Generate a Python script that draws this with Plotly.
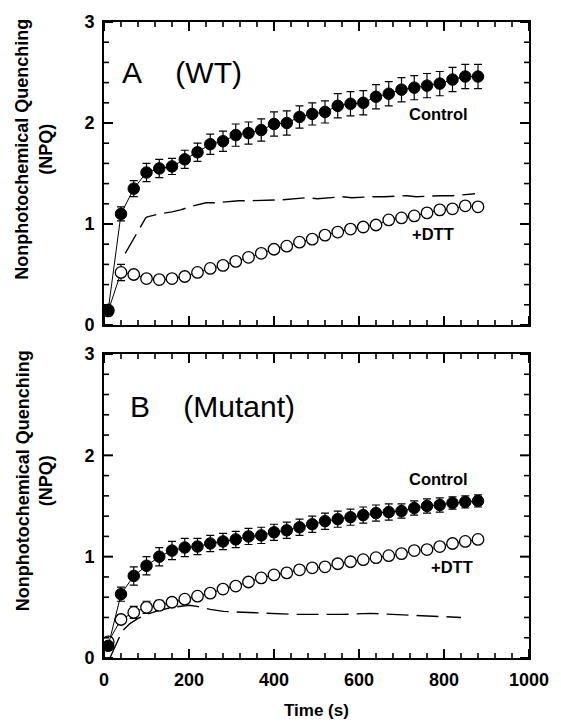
import plotly.graph_objects as go

# ---------------- data ----------------
time_s = [10, 40, 70, 100, 130, 160, 190, 220, 250, 280, 310, 340, 370, 400, 430,
          460, 490, 520, 550, 580, 610, 640, 670, 700, 730, 760, 790, 820, 850, 880]

wt_control = [0.15, 1.10, 1.35, 1.51, 1.55, 1.57, 1.64, 1.71, 1.79, 1.82, 1.88, 1.90, 1.93, 1.99, 2.00,
              2.06, 2.09, 2.11, 2.17, 2.19, 2.20, 2.26, 2.29, 2.33, 2.35, 2.37, 2.39, 2.43, 2.46, 2.46]
wt_control_err = [0.03, 0.07, 0.08, 0.09, 0.09, 0.08, 0.09, 0.09, 0.10, 0.10, 0.11, 0.11, 0.11, 0.12, 0.12,
                  0.11, 0.11, 0.11, 0.12, 0.12, 0.12, 0.12, 0.12, 0.12, 0.12, 0.12, 0.12, 0.12, 0.12, 0.12]
wt_dtt = [0.14, 0.52, 0.50, 0.46, 0.45, 0.46, 0.48, 0.52, 0.56, 0.59, 0.63, 0.67, 0.71, 0.75, 0.78,
          0.82, 0.85, 0.89, 0.92, 0.95, 0.97, 0.99, 1.04, 1.06, 1.08, 1.11, 1.14, 1.15, 1.18, 1.17]
wt_dtt_err = [0.02, 0.08, 0.04, 0.03, 0.03, 0.03, 0.03, 0.03, 0.03, 0.03, 0.03, 0.03, 0.03, 0.03, 0.03,
              0.03, 0.03, 0.03, 0.03, 0.03, 0.03, 0.03, 0.03, 0.03, 0.03, 0.03, 0.03, 0.03, 0.03, 0.03]

wt_dash_t = [50, 75, 98, 102, 130, 160, 180, 210, 240, 260, 317, 341, 398, 421, 475, 502,
             560, 583, 636, 659, 712, 735, 790, 820, 873]
wt_dash_v = [0.71, 0.89, 1.06, 1.07, 1.10, 1.12, 1.14, 1.18, 1.21, 1.21, 1.23, 1.23, 1.24, 1.24, 1.26, 1.25,
             1.27, 1.26, 1.27, 1.27, 1.28, 1.27, 1.28, 1.28, 1.30]

mut_control = [0.12, 0.63, 0.81, 0.91, 1.00, 1.06, 1.09, 1.10, 1.13, 1.15, 1.17, 1.20, 1.21, 1.24, 1.26,
               1.29, 1.32, 1.35, 1.37, 1.39, 1.41, 1.43, 1.44, 1.45, 1.48, 1.50, 1.51, 1.53, 1.54, 1.55]
mut_control_err = [0.03, 0.07, 0.09, 0.09, 0.09, 0.09, 0.09, 0.08, 0.08, 0.08, 0.08, 0.08, 0.08, 0.08, 0.08,
                   0.08, 0.08, 0.08, 0.08, 0.08, 0.08, 0.08, 0.08, 0.07, 0.07, 0.07, 0.07, 0.06, 0.06, 0.06]
mut_dtt = [0.16, 0.38, 0.45, 0.50, 0.52, 0.55, 0.58, 0.61, 0.64, 0.68, 0.71, 0.75, 0.79, 0.82, 0.84,
           0.87, 0.89, 0.90, 0.93, 0.95, 0.97, 0.99, 1.01, 1.03, 1.06, 1.07, 1.10, 1.13, 1.15, 1.17]
mut_dtt_err = [0.02, 0.04, 0.06, 0.06, 0.05, 0.03, 0.03, 0.03, 0.03, 0.03, 0.03, 0.03, 0.03, 0.03, 0.03,
               0.03, 0.03, 0.03, 0.03, 0.03, 0.03, 0.03, 0.03, 0.03, 0.03, 0.03, 0.03, 0.03, 0.03, 0.03]

mut_dash_t = [15, 42, 61, 80, 100, 130, 160, 200, 219, 250, 281, 330, 400, 450, 500, 560,
              627, 680, 731, 780, 812, 840]
mut_dash_v = [0.01, 0.26, 0.34, 0.39, 0.43, 0.47, 0.50, 0.52, 0.51, 0.48, 0.46, 0.45, 0.44, 0.43, 0.43, 0.43,
              0.44, 0.43, 0.415, 0.41, 0.40, 0.40]

x_tick_vals = [0, 200, 400, 600, 800, 1000]
x_tick_text = ["0", "200", "400", "600", "800", "1000"]
y_tick_vals = [0, 1, 2, 3]
y_tick_text = ["0", "1", "2", "3"]
x_minor_step = 40
y_minor_step = 0.2

FONT = "Liberation Sans, Arial, Helvetica, sans-serif"

fig = go.Figure()


def add_panel(xa, ya, ctrl, ctrl_err, dtt, dtt_err, dash_t, dash_v):
    fig.add_trace(go.Scatter(
        x=dash_t, y=dash_v, mode="lines", xaxis=xa, yaxis=ya,
        line=dict(color="black", width=1.4, dash="22px,8px"),
        showlegend=False, hoverinfo="skip"))
    fig.add_trace(go.Scatter(
        x=time_s, y=dtt, mode="lines+markers", xaxis=xa, yaxis=ya,
        line=dict(color="black", width=1),
        marker=dict(symbol="circle", size=11.5, color="white",
                    line=dict(color="black", width=1.3)),
        error_y=dict(type="data", array=dtt_err, color="black", thickness=1.2, width=4),
        cliponaxis=False, showlegend=False))
    fig.add_trace(go.Scatter(
        x=time_s, y=ctrl, mode="lines+markers", xaxis=xa, yaxis=ya,
        line=dict(color="black", width=1),
        marker=dict(symbol="circle", size=11.5, color="black",
                    line=dict(color="black", width=1)),
        error_y=dict(type="data", array=ctrl_err, color="black", thickness=1.2, width=4),
        cliponaxis=False, showlegend=False))


add_panel("x", "y", wt_control, wt_control_err, wt_dtt, wt_dtt_err, wt_dash_t, wt_dash_v)
add_panel("x2", "y2", mut_control, mut_control_err, mut_dtt, mut_dtt_err, mut_dash_t, mut_dash_v)

xr = [x_tick_vals[0], x_tick_vals[-1]]
yr = [y_tick_vals[0], y_tick_vals[-1]]

xaxis_common = dict(
    range=xr, tickmode="array", tickvals=x_tick_vals, ticktext=x_tick_text,
    ticks="", showline=True, linewidth=2, linecolor="black", mirror=True,
    showgrid=False, zeroline=False, ticklabelstandoff=4,
    tickfont=dict(family=FONT, size=18, color="black", weight="bold"),
)
yaxis_common = dict(
    range=yr, tickmode="array", tickvals=y_tick_vals, ticktext=y_tick_text,
    ticks="", showline=True, linewidth=2, linecolor="black", mirror=True,
    showgrid=False, zeroline=False, ticklabelstandoff=4,
    tickfont=dict(family=FONT, size=18, color="black", weight="bold"),
)

fig.update_layout(
    width=561, height=726,
    margin=dict(l=104, r=24, t=22, b=68),
    paper_bgcolor="white", plot_bgcolor="white",
    font=dict(family=FONT, color="black"),
    xaxis=dict(xaxis_common, anchor="y", showticklabels=False),
    yaxis=dict(yaxis_common, domain=[0.5236, 1.0], anchor="x"),
    xaxis2=dict(xaxis_common, anchor="y2"),
    yaxis2=dict(yaxis_common, domain=[0.0, 0.478], anchor="x2"),
)

# ---- inside tick marks on all four sides (drawn as shapes anchored in pixels) ----
MAJOR_LEN, MINOR_LEN = 9, 5


def frange(a, b, step):
    out, k = [], 0
    while a + k * step <= b + 1e-9:
        out.append(round(a + k * step, 6))
        k += 1
    return out


shapes = []
for xa, ya in (("x", "y"), ("x2", "y2")):
    x_minor = [v for v in frange(xr[0], xr[1], x_minor_step) if v not in x_tick_vals]
    y_minor = [v for v in frange(yr[0], yr[1], y_minor_step)
               if all(abs(v - t) > 1e-6 for t in y_tick_vals)]
    for vals, ln, w in ((x_tick_vals, MAJOR_LEN, 2), (x_minor, MINOR_LEN, 1.6)):
        for v in vals:
            for anc, sgn in ((0, 1), (1, -1)):
                shapes.append(dict(type="line", xref=xa, yref=ya + " domain",
                                   ysizemode="pixel", yanchor=anc,
                                   x0=v, x1=v, y0=0, y1=sgn * ln,
                                   line=dict(color="black", width=w)))
    for vals, ln, w in ((y_tick_vals, MAJOR_LEN, 2), (y_minor, MINOR_LEN, 1.6)):
        for v in vals:
            for anc, sgn in ((0, 1), (1, -1)):
                shapes.append(dict(type="line", xref=xa + " domain", yref=ya,
                                   xsizemode="pixel", xanchor=anc,
                                   y0=v, y1=v, x0=0, x1=sgn * ln,
                                   line=dict(color="black", width=w)))
fig.update_layout(shapes=shapes)

NB = "\u00a0"
ann = [
    dict(text="A" + NB * 4 + "(WT)", x=37, y=2.5, xref="x", yref="y", xanchor="left",
         yanchor="middle", showarrow=False, font=dict(size=30, family=FONT)),
    dict(text="B" + NB * 4 + "(Mutant)", x=57, y=2.48, xref="x2", yref="y2", xanchor="left",
         yanchor="middle", showarrow=False, font=dict(size=30, family=FONT)),
    dict(text="Control", x=788, y=2.09, xref="x", yref="y", showarrow=False,
         font=dict(size=16.5, family=FONT, weight="bold")),
    dict(text="+DTT", x=775, y=0.90, xref="x", yref="y", showarrow=False,
         font=dict(size=16.5, family=FONT, weight="bold")),
    dict(text="Control", x=788, y=1.77, xref="x2", yref="y2", showarrow=False,
         font=dict(size=16.5, family=FONT, weight="bold")),
    dict(text="+DTT", x=818, y=0.90, xref="x2", yref="y2", showarrow=False,
         font=dict(size=16.5, family=FONT, weight="bold")),
    dict(text="Nonphotochemical Quenching<br>(NPQ)", x=0, y=0.799, xref="paper", yref="paper",
         xanchor="center", yanchor="middle", xshift=-70, textangle=-90, showarrow=False,
         font=dict(size=18, family=FONT, weight="bold")),
    dict(text="Nonphotochemical Quenching<br>(NPQ)", x=0, y=0.278, xref="paper", yref="paper",
         xanchor="center", yanchor="middle", xshift=-70, textangle=-90, showarrow=False,
         font=dict(size=18, family=FONT, weight="bold")),
    dict(text="Time (s)", x=0.5, y=-0.083, xref="paper", yref="paper",
         xanchor="center", yanchor="middle", showarrow=False,
         font=dict(size=17, family=FONT, weight="bold")),
]
fig.update_layout(annotations=ann)

fig.write_html("out.html")
